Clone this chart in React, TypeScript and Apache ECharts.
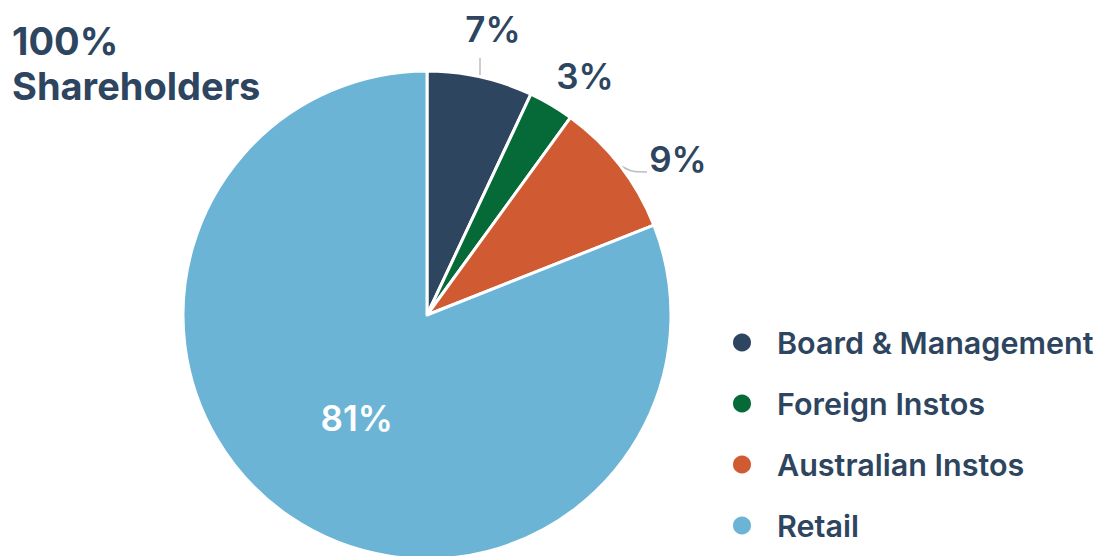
import React, { useEffect, useRef } from "react";
import * as echarts from "echarts";

const categories = ["Board & Management", "Foreign Instos", "Australian Instos", "Retail"];
const values = [7, 3, 9, 81];
const sliceColors = ["#2e4560", "#066a38", "#d05a31", "#6bb4d5"];
const titleText = "100%\nShareholders";

const TEXT = "#2e4560";
const FONT = "Inter";

// label placement for outside labels (layout only)
const LABEL_LAYOUT: Record<number, any> = {
  0: { x: 493, y: 29, line: [[480, 75], [480, 66], [480, 58]] },
  1: { x: 585, y: 76, line: null },
  2: { x: 678, y: 159, line: [[621, 166], [632, 172], [647, 172]] },
};

export default function App() {
  const ref = useRef<HTMLDivElement>(null);
  useEffect(() => {
    if (!ref.current) return;
    const chart = echarts.init(ref.current, undefined, { renderer: "svg" });
    const data = categories.map((name, i) => ({
      name,
      value: values[i],
      itemStyle: { color: sliceColors[i] },
      label:
        i === 3
          ? { position: "inside", color: "#ffffff" }
          : { position: "outside", color: TEXT },
      labelLine: { show: i === 0 || i === 2 },
    }));
    chart.setOption({
      animation: false,
      backgroundColor: "#ffffff",
      title: {
        text: titleText,
        left: 12,
        top: 18,
        padding: 0,
        textStyle: {
          fontFamily: FONT,
          fontSize: 38,
          fontWeight: 700,
          color: TEXT,
          lineHeight: 45,
        },
      },
      legend: {
        orient: "vertical",
        left: 731,
        top: 327,
        padding: 0,
        icon: "circle",
        itemWidth: 20,
        itemHeight: 20,
        itemGap: 30,
        data: categories,
        textStyle: {
          fontFamily: FONT,
          fontSize: 30.5,
          fontWeight: 600,
          color: TEXT,
          lineHeight: 30,
          padding: [0, 0, 0, 20],
        },
      },
      series: [
        {
          type: "pie",
          center: [427, 315],
          radius: [0, 244],
          startAngle: 90,
          clockwise: true,
          avoidLabelOverlap: false,
          itemStyle: { borderColor: "#ffffff", borderWidth: 3 },
          label: {
            show: true,
            formatter: (p: any) => p.value + "%",
            fontFamily: FONT,
            fontSize: 35,
            fontWeight: 600,
          },
          labelLine: {
            smooth: 0.3,
            lineStyle: { color: "#bdbdbd", width: 1.5 },
          },
          labelLayout: (params: any) => {
            const l = LABEL_LAYOUT[params.dataIndex];
            if (!l) return {};
            const out: any = { x: l.x, y: l.y, align: "center", verticalAlign: "middle" };
            if (l.line) out.labelLinePoints = l.line;
            return out;
          },
          data,
        },
      ],
    });
    return () => chart.dispose();
  }, []);
  return (
    <div
      ref={ref}
      style={{ position: "fixed", left: 0, top: 0, width: 1099, height: 556 }}
    />
  );
}
